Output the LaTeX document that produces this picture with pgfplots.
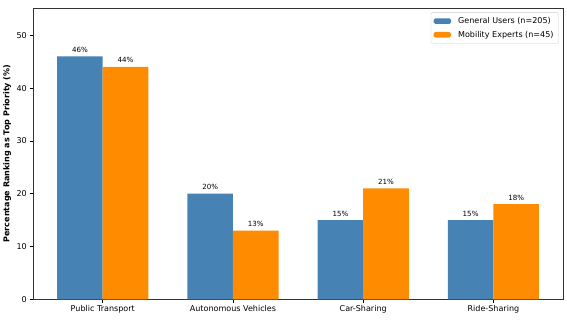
\documentclass[border=0pt]{standalone}
\usepackage{pgfplots}
\pgfplotsset{compat=1.18}
\usepackage{fontspec}
\setmainfont{DejaVu Sans}
\definecolor{steel}{HTML}{4682B4}
\definecolor{dorange}{HTML}{FF8C00}
\begin{document}
\begin{tikzpicture}
\path[use as bounding box] (-42pt,-25.4pt) rectangle (678pt,380pt);
\begin{axis}[
  at={(0,0)}, anchor=south west,
  scale only axis, width=673pt, height=370pt,
  xmin=-0.535, xmax=3.535, ymin=0, ymax=55.2,
  xtick={0,1,2,3},
  xticklabels={Public Transport,Autonomous Vehicles,Car-Sharing,Ride-Sharing},
  ytick={0,10,20,30,40,50},
  tick align=outside, tick pos=left,
  major tick length=4.5pt,
  every tick/.style={black, line width=0.8pt},
  axis line style={black!80, line width=0.8pt},
  /pgf/number format/assume math mode=true,
  tick label style={font=\fontsize{10.2}{12}\selectfont},
  ylabel={\bfseries Percentage Ranking as Top Priority (\%)},
  ylabel style={font=\fontsize{10.2}{12}\selectfont, yshift=0pt},
  ybar, bar width=0.35,
  nodes near coords={\pgfmathprintnumber{\pgfplotspointmeta}\%},
  every node near coord/.append style={font=\fontsize{9}{11}\selectfont, black, yshift=1.5pt},
  legend style={at={(0.992,0.985)}, anchor=north east, font=\fontsize{10.2}{12}\selectfont,
    draw=black!20, rounded corners=2pt, inner sep=3.5pt, row sep=2pt,
    /tikz/every even column/.append style={column sep=0pt}},
  legend cell align=left,
  legend image code/.code={\fill[#1] (0pt,-3.5pt) rectangle (22pt,3.5pt);},
  legend style={nodes={inner sep=3pt}, text depth=0pt},
]
\addplot[fill=steel, draw=none, bar shift=-0.175] coordinates {(0,46) (1,20) (2,15) (3,15)};
\addlegendentry{\hspace{6pt}General Users (n=205)}
\addplot[fill=dorange, draw=none, bar shift=0.175] coordinates {(0,44) (1,13) (2,21) (3,18)};
\addlegendentry{\hspace{6pt}Mobility Experts (n=45)}
\end{axis}
\end{tikzpicture}
\end{document}
